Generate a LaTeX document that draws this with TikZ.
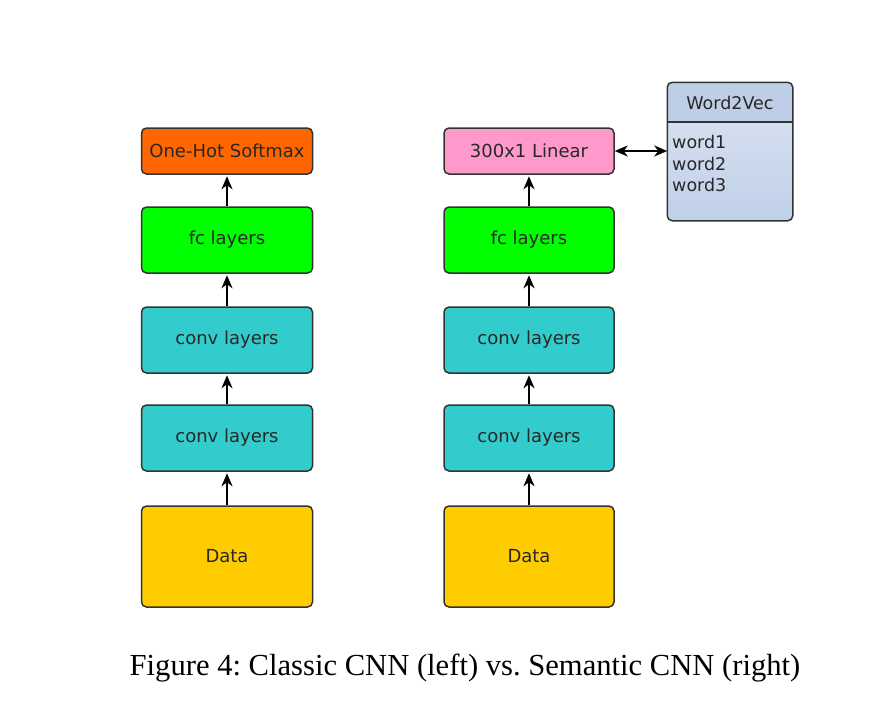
\documentclass[tikz,border=0pt]{standalone}
\usepackage{fontspec}
\setmainfont{Liberation Serif}
\newfontfamily\boxfont{DejaVu Sans}
\usetikzlibrary{arrows.meta}
\definecolor{softorange}{RGB}{255,102,0}
\definecolor{fcgreen}{RGB}{0,255,0}
\definecolor{convteal}{RGB}{51,204,204}
\definecolor{datagold}{RGB}{255,204,0}
\definecolor{linpink}{RGB}{255,153,204}
\definecolor{wvtop}{RGB}{220,229,242}
\definecolor{wvbot}{RGB}{192,208,233}
\definecolor{wvhead}{RGB}{190,206,230}
\definecolor{boxtext}{RGB}{40,40,40}
\begin{document}
\frenchspacing
\begin{tikzpicture}[x=1pt,y=-1pt,
  layer/.style={draw=black!80, line width=1.5pt, rounded corners=5pt,
    font=\boxfont\fontsize{18}{20}\selectfont, text=boxtext,
    minimum width=171pt, inner sep=0pt},
  tip/.tip={Stealth[length=13pt,width=11pt,inset=4pt]},
  flow/.style={-tip, line width=1.8pt, black, shorten >=1.5pt},
  bothflow/.style={tip-tip, line width=1.8pt, black}]
\useasboundingbox (0,0) rectangle (894,724);
% left column
\node[layer, fill=softorange, minimum height=46pt] (lsoft) at (227,151) {One-Hot Softmax};
\node[layer, fill=fcgreen, minimum height=66pt] (lfc) at (227,240) {fc layers};
\node[layer, fill=convteal, minimum height=66pt] (lconv2) at (227,340) {conv layers};
\node[layer, fill=convteal, minimum height=66pt] (lconv1) at (227,438) {conv layers};
\node[layer, fill=datagold, minimum height=101pt] (ldata) at (227,556.5) {Data};
% right column
\node[layer, fill=linpink, minimum height=46pt, minimum width=170pt] (rlin) at (529,151) {300x1 Linear};
\node[layer, fill=fcgreen, minimum height=66pt, minimum width=170pt] (rfc) at (529,240) {fc layers};
\node[layer, fill=convteal, minimum height=66pt, minimum width=170pt] (rconv2) at (529,340) {conv layers};
\node[layer, fill=convteal, minimum height=66pt, minimum width=170pt] (rconv1) at (529,438) {conv layers};
\node[layer, fill=datagold, minimum height=101pt, minimum width=170pt] (rdata) at (529,556.5) {Data};
% Word2Vec
\node[line width=1.5pt, rounded corners=5pt, top color=wvtop, bottom color=wvbot,
  minimum width=124pt, minimum height=137pt, inner sep=0pt] (w2v) at (730,151.5) {};
\fill[wvhead, rounded corners=5pt] (w2v.north west) rectangle (w2v.east |- 0,122);
\draw[line width=1.5pt, rounded corners=5pt, black!80] (w2v.south west) rectangle (w2v.north east);
\coordinate (hl) at (w2v.west |- 0,122);
\coordinate (hr) at (w2v.east |- 0,122);
\draw[line width=1.5pt, black!80] (hl) -- (hr);
\node[font=\boxfont\fontsize{17.5}{20}\selectfont, text=boxtext] (w2vt) at (730,103) {Word2Vec};
\node[font=\boxfont\fontsize{17.5}{21.5}\selectfont, text=boxtext, align=left, anchor=north west, inner sep=0pt] (w2vw) at (672,135) {word1\\word2\\word3};
% arrows
\draw[flow] (ldata) -- (lconv1);
\draw[flow] (lconv1) -- (lconv2);
\draw[flow] (lconv2) -- (lfc);
\draw[flow] (lfc) -- (lsoft);
\draw[flow] (rdata) -- (rconv1);
\draw[flow] (rconv1) -- (rconv2);
\draw[flow] (rconv2) -- (rfc);
\draw[flow] (rfc) -- (rlin);
\draw[bothflow] (rlin.east) -- (w2v.west |- rlin.east);
% caption
\node[font=\fontsize{30.6}{34}\selectfont, anchor=base] (cap) at (465,675) {Figure 4: Classic CNN (left) vs. Semantic CNN (right)};
\end{tikzpicture}
\end{document}
